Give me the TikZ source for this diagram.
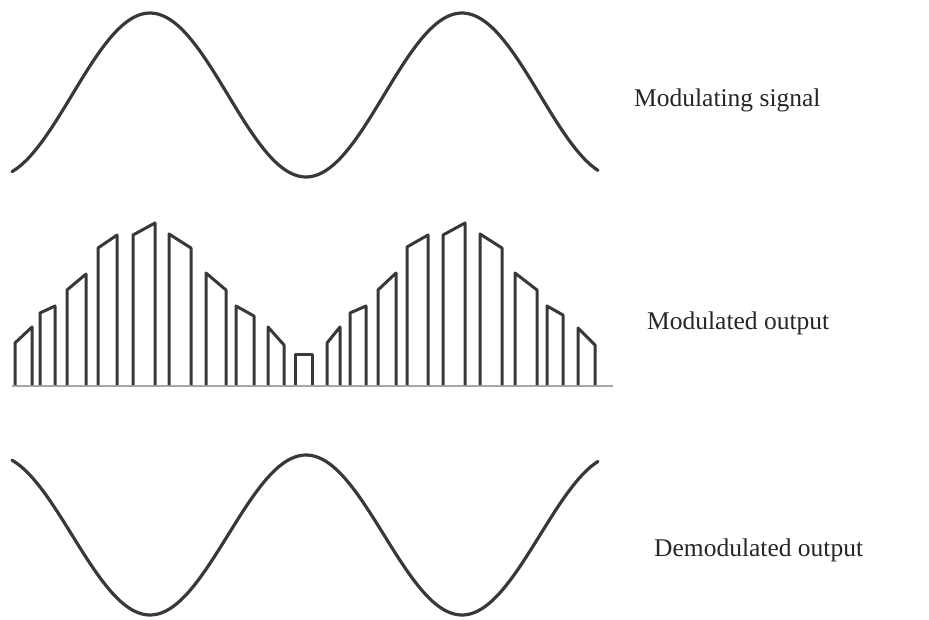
\documentclass[tikz,border=0pt]{standalone}
\usepackage{fontspec}
\setmainfont{Liberation Serif}
\tikzset{
  wave/.style={line width=3.2pt, color=black!78, line join=round, line cap=round},
  pulse/.style={line width=3pt, color=black!78, line join=round},
  axisline/.style={line width=2.2pt, color=black!35},
  lbl/.style={anchor=west, inner sep=0pt, text=black!85, font=\fontsize{25.5}{30}\selectfont}
}
\begin{document}
\begin{tikzpicture}[x=1pt,y=-1pt]
\useasboundingbox (0,0) rectangle (929,619);
% modulating signal
\draw[wave] plot[domain=12:598,samples=150,smooth] (\x,{95-82*cos(1.153846*(\x-150))});
% baseline
\coordinate (b0) at (12,386);
\coordinate (b1) at (613,386);
\draw[axisline] (b0) -- (b1);
% pulses
\foreach \xl/\xr/\yl/\yr in {15/32/343/327,40/55/313/306,67/86/290/274,98/117/248/235,133/155/235/223,169/191/234/248,206/226/273/290,236/254/306/316,268/284/327/345,295/312/354/354,327/340/343/327,350/366/313/306,378/396/290/273,407/428/247/235,443/465/235/223,480/502/234/248,515/537/273/290,547/563/306/315,578/595/328/345}
  \draw[pulse] (\xl,385) -- (\xl,\yl) -- (\xr,\yr) -- (\xr,385);
% demodulated output
\draw[wave] plot[domain=12:598,samples=150,smooth] (\x,{535+80*cos(1.153846*(\x-150))});
% labels
\node[lbl] (l1) at (634,100) {Modulating signal};
\node[lbl] (l2) at (647,323) {Modulated output};
\node[lbl] (l3) at (654,550) {Demodulated output};
\end{tikzpicture}
\end{document}
